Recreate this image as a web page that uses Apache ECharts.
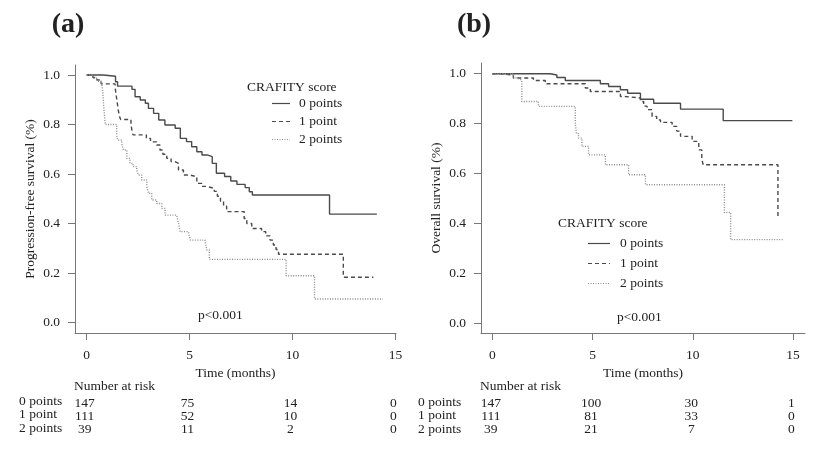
<!DOCTYPE html>
<html><head><meta charset="utf-8">
<script src="https://cdn.jsdelivr.net/npm/echarts@6/dist/echarts.min.js"></script>
<style>html,body{margin:0;padding:0;background:#fff}#c{width:829px;height:450px}</style>
</head><body><div id="c"></div>
<script>
// ---- data ----
const groupNames = ['0 points', '1 point', '2 points'];
const timeTicks = [0, 5, 10, 15];
const survTicks = [0, 0.2, 0.4, 0.6, 0.8, 1.0];
const riskTimes = [0, 5, 10, 15];

// (a) progression-free survival, [time, survival]
const pfs0 = [[0,1],[0.8,0.995],[1.4,0.973],[1.5,0.955],[2.2,0.942],[2.35,0.912],[2.6,0.899],[2.85,0.886],[3.0,0.865],[3.25,0.845],[3.5,0.818],[3.8,0.798],[4.3,0.785],[4.55,0.744],[4.85,0.731],[5.1,0.71],[5.35,0.69],[5.6,0.677],[5.85,0.67],[6.1,0.643],[6.3,0.603],[6.7,0.59],[7.0,0.572],[7.3,0.558],[7.7,0.545],[7.9,0.528],[8.05,0.515],[11.8,0.438],[14.1,0.438]];
const pfs1 = [[0,1],[0.3,0.99],[0.5,0.98],[0.7,0.964],[1.38,0.95],[1.43,0.92],[1.48,0.89],[1.53,0.86],[1.6,0.83],[1.65,0.82],[2.15,0.8],[2.2,0.775],[2.25,0.758],[2.9,0.744],[3.1,0.73],[3.4,0.717],[3.56,0.697],[3.7,0.68],[3.89,0.663],[4.1,0.65],[4.29,0.643],[4.46,0.616],[4.7,0.596],[5.02,0.589],[5.35,0.562],[5.6,0.55],[5.83,0.542],[6.2,0.53],[6.35,0.51],[6.5,0.49],[6.65,0.47],[6.8,0.448],[7.65,0.42],[7.78,0.40],[8.02,0.38],[8.5,0.367],[8.7,0.35],[8.91,0.333],[9.07,0.313],[9.2,0.295],[9.32,0.276],[12.47,0.183],[13.93,0.183]];
const pfs2 = [[0,1],[0.32,0.987],[0.5,0.975],[0.73,0.964],[0.78,0.93],[0.82,0.88],[0.86,0.84],[0.9,0.80],[1.46,0.76],[1.5,0.737],[1.7,0.724],[1.78,0.697],[1.95,0.663],[2.1,0.643],[2.25,0.63],[2.43,0.616],[2.51,0.596],[2.67,0.576],[2.92,0.549],[3.0,0.522],[3.16,0.495],[3.4,0.481],[3.65,0.461],[3.81,0.434],[4.37,0.427],[4.46,0.40],[4.54,0.367],[4.94,0.36],[5.03,0.333],[5.75,0.327],[5.83,0.293],[5.96,0.255],[9.69,0.189],[11.07,0.095],[14.39,0.095]];

// (b) overall survival, [time, survival]
const os0 = [[0,1],[2.89,0.995],[3.22,0.985],[3.64,0.973],[5.39,0.96],[5.8,0.949],[6.39,0.936],[6.75,0.922],[7.39,0.898],[8.05,0.882],[9.39,0.858],[11.52,0.812],[14.97,0.812]];
const os1 = [[0,1],[0.4,0.995],[1.05,0.983],[2.05,0.973],[2.64,0.96],[4.64,0.943],[4.89,0.929],[6.39,0.909],[6.55,0.903],[7.39,0.889],[7.55,0.87],[7.72,0.856],[7.97,0.829],[8.2,0.815],[8.39,0.805],[8.97,0.789],[9.2,0.77],[9.39,0.749],[9.97,0.729],[10.3,0.695],[10.45,0.66],[10.52,0.635],[14.25,0.422]];
const os2 = [[0,1],[1.05,0.983],[1.2,0.975],[1.47,0.889],[2.3,0.869],[4.14,0.80],[4.2,0.76],[4.3,0.742],[4.47,0.709],[4.8,0.675],[5.64,0.635],[6.8,0.595],[7.64,0.555],[11.58,0.444],[11.89,0.335],[14.52,0.335]];

// numbers at risk
const pfsRisk0 = [147, 75, 14, 0];
const pfsRisk1 = [111, 52, 10, 0];
const pfsRisk2 = [39, 11, 2, 0];
const osRisk0 = [147, 100, 30, 1];
const osRisk1 = [111, 81, 33, 0];
const osRisk2 = [39, 21, 7, 0];

// ---- chart ----
const FF = '"Liberation Serif", "Times New Roman", serif';
const FS = 13.5;
const TXT = '#222';
const AX = '#777';
const styles = [
  {color: '#4a4a4a', width: 1.4, type: 'solid'},
  {color: '#4a4a4a', width: 1.4, type: [4, 3]},
  {color: '#8c8c8c', width: 1.4, type: [1, 1.5]}
];

function xAxisCfg(gridIndex, min, max, gap) {
  return {
    gridIndex, type: 'value', min, max,
    axisLine: {show: true, onZero: false, lineStyle: {color: AX, width: 1}},
    axisTick: {show: true, inside: false, length: 7, customValues: timeTicks, lineStyle: {color: AX}},
    axisLabel: {customValues: timeTicks, margin: 15, fontFamily: FF, fontSize: FS, color: TXT},
    splitLine: {show: false},
    name: 'Time (months)', nameLocation: 'middle', nameGap: gap,
    nameTextStyle: {fontFamily: FF, fontSize: FS, color: TXT}
  };
}
function yAxisCfg(gridIndex, min, max, name) {
  return {
    gridIndex, type: 'value', min, max,
    axisLine: {show: true, onZero: false, lineStyle: {color: AX, width: 1}},
    axisTick: {show: true, inside: false, length: 7, customValues: survTicks, lineStyle: {color: AX}},
    axisLabel: {customValues: survTicks, margin: 15, fontFamily: FF, fontSize: FS, color: TXT,
      formatter: v => v.toFixed(1)},
    splitLine: {show: false},
    name, nameLocation: 'middle', nameGap: 38, nameRotate: 90,
    nameTextStyle: {fontFamily: FF, fontSize: FS, color: TXT}
  };
}
function series(name, data, idx, axis) {
  return {
    name, type: 'line', step: 'end', data, symbol: 'none', xAxisIndex: axis, yAxisIndex: axis,
    lineStyle: styles[idx], itemStyle: {color: styles[idx].color}, silent: true, animation: false
  };
}

const chart = echarts.init(document.getElementById('c'), null, {renderer: 'canvas'});
chart.setOption({
  animation: false,
  backgroundColor: '#fff',
  grid: [
    {left: 75, top: 65, width: 321, height: 268},
    {left: 481, top: 63, width: 324, height: 270}
  ],
  xAxis: [xAxisCfg(0, -0.569, 15.03, 22), xAxisCfg(1, -0.565, 15.6, 27)],
  yAxis: [yAxisCfg(0, -0.0424, 1.0404, 'Progression-free survival (%)'),
          yAxisCfg(1, -0.039, 1.043, 'Overall survival (%)')],
  series: [
    series(groupNames[0], pfs0, 0, 0), series(groupNames[1], pfs1, 1, 0), series(groupNames[2], pfs2, 2, 0),
    series(groupNames[0], os0, 0, 1), series(groupNames[1], os1, 1, 1), series(groupNames[2], os2, 2, 1)
  ]
});

function txt(x, y, text, align, size, weight) {
  return {type: 'text', x, y, silent: true,
    style: {text, fill: TXT, align: align || 'left', verticalAlign: 'middle',
      font: (weight || 'normal') + ' ' + (size || FS) + 'px ' + FF}};
}
const g = [];
g.push(txt(68, 25, '(a)', 'center', 28, 'bold'));
g.push(txt(474, 25, '(b)', 'center', 28, 'bold'));
g.push(txt(198, 315, 'p<0.001'));
g.push(txt(617, 317, 'p<0.001'));

// legends (key)
const legends = [
  {titleX: 247, titleY: 87, x1: 272, x2: 290, tx: 299, rows: [103.5, 121.5, 139.5]},
  {titleX: 558, titleY: 223, x1: 588, x2: 610, tx: 620, rows: [243.5, 263.5, 283.5]}
];
legends.forEach(lg => {
  g.push(txt(lg.titleX, lg.titleY, 'CRAFITY score'));
  groupNames.forEach((nm, i) => {
    const st = styles[i];
    g.push({type: 'line', silent: true,
      shape: {x1: lg.x1, y1: lg.rows[i], x2: lg.x2, y2: lg.rows[i]},
      style: {stroke: st.color, lineWidth: 1.2, lineDash: Array.isArray(st.type) ? st.type : null}});
    g.push(txt(lg.tx, lg.rows[i], nm));
  });
});

// numbers at risk tables
const tables = [
  {axis: 0, risks: [pfsRisk0, pfsRisk1, pfsRisk2], titleX: 74, titleY: 386, labelX: 19, rowsLab: [401.5, 414.5, 428], rowsNum: [403, 416, 429.5], dx: -2},
  {axis: 1, risks: [osRisk0, osRisk1, osRisk2], titleX: 480, titleY: 386.5, labelX: 418, rowsLab: [402, 415.5, 429], rowsNum: [403.5, 416.5, 429.5], dx: -1.5}
];
tables.forEach(tb => {
  g.push(txt(tb.titleX, tb.titleY, 'Number at risk'));
  groupNames.forEach((nm, r) => {
    g.push(txt(tb.labelX, tb.rowsLab[r], nm));
    riskTimes.forEach((t, i) => {
      const px = chart.convertToPixel({xAxisIndex: tb.axis}, t) + tb.dx;
      g.push(txt(px, tb.rowsNum[r], String(tb.risks[r][i]), 'center'));
    });
  });
});
chart.setOption({graphic: g});
</script>
</body></html>
